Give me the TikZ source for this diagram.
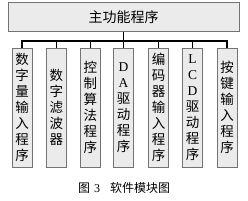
\documentclass[tikz,border=0pt]{standalone}
\usepackage{fontspec}
\setmainfont{Liberation Serif}
\newfontfamily\cjk{Noto Sans CJK SC}
\begin{document}
\begin{tikzpicture}[x=1pt,y=-1pt,
  boxst/.style={draw=black!55, fill=black!8, line width=0.8pt, inner sep=0pt},
  modbox/.style={boxst, minimum width=20pt, minimum height=119pt, align=center,
    font=\fontsize{13.5}{16}\selectfont\cjk},
  link/.style={draw=black, line width=1.6pt}]
\useasboundingbox (0,0) rectangle (248,200);
\node[boxst, minimum width=231pt, minimum height=29pt, font=\fontsize{14}{16}\selectfont\cjk] (top) at (123.5,17) {主功能程序};
\node[modbox] (b1) at (22,107.5) {数\\字\\量\\输\\入\\程\\序};
\node[modbox] (b2) at (56.3,107.5) {数\\字\\滤\\波\\器};
\node[modbox] (b3) at (90.3,107.5) {控\\制\\算\\法\\程\\序};
\node[modbox] (b4) at (123.5,107.5) {{\rmfamily D}\\{\rmfamily A}\\驱\\动\\程\\序};
\node[modbox] (b5) at (158.5,107.5) {编\\码\\器\\输\\入\\程\\序};
\node[modbox] (b6) at (192.5,107.5) {{\rmfamily L}\\{\rmfamily C}\\{\rmfamily D}\\驱\\动\\程\\序};
\node[modbox] (b7) at (227,107.5) {按\\键\\输\\入\\程\\序};
\coordinate (j) at (123.5,41);
\coordinate (bl) at (b1.north |- j);
\coordinate (br) at (b7.north |- j);
\draw[link] (top.south) -- (j);
\draw[link, line cap=rect] (bl) -- (br);
\foreach \i in {1,...,7} {\draw[link] (b\i.north) -- (b\i.north |- j);}
\node[font=\fontsize{12}{13}\selectfont\cjk] (cap) at (124,188) {图\hspace{4pt}{\rmfamily 3}\hspace{10pt}软件模块图};
\end{tikzpicture}
\end{document}
